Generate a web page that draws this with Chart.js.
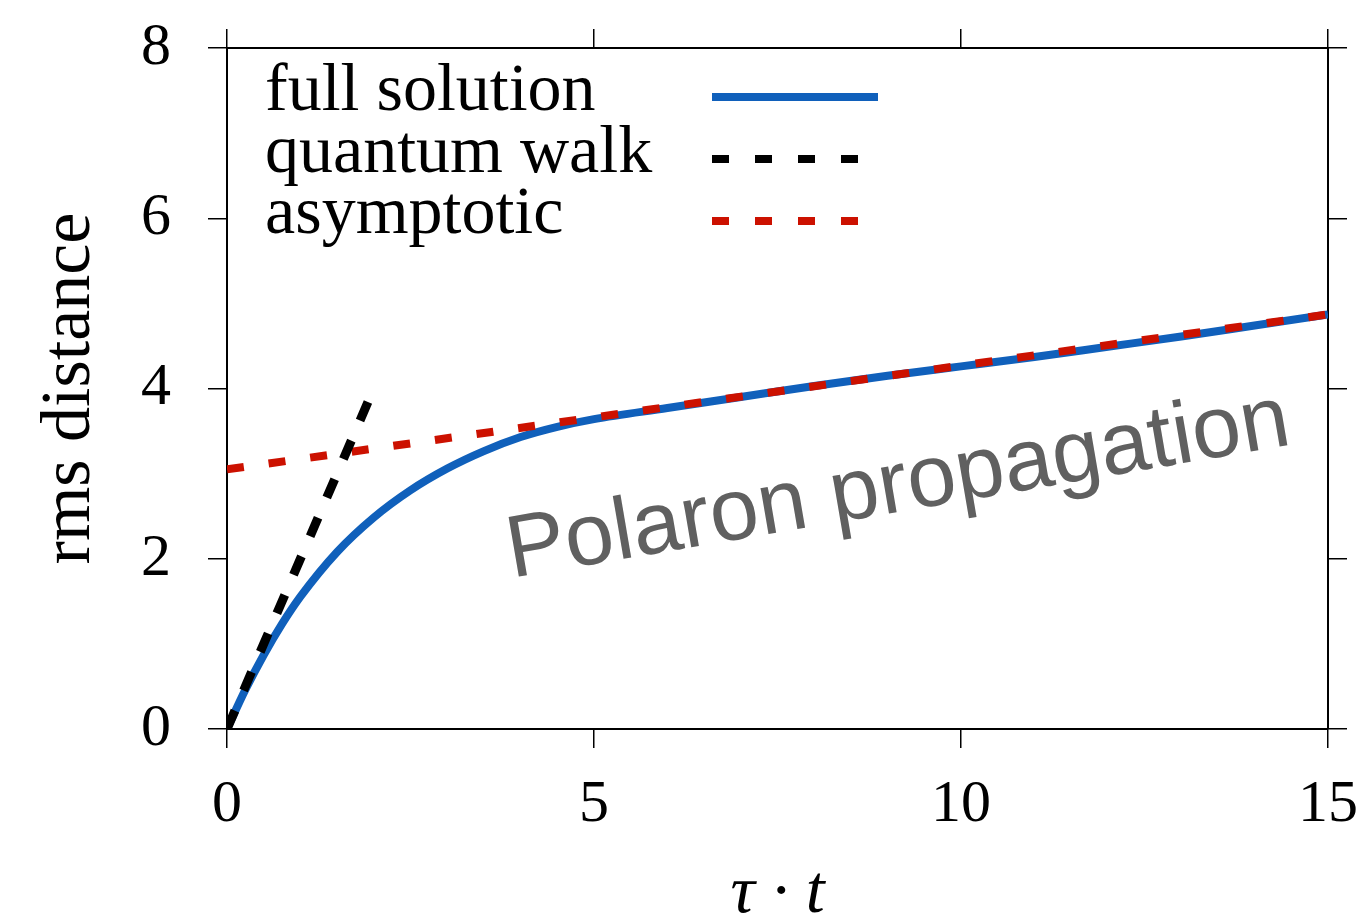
<!DOCTYPE html>
<html>
<head>
<meta charset="utf-8">
<title>rms distance of polaron propagation</title>
<script src="https://cdn.jsdelivr.net/npm/chart.js@4.4.1/dist/chart.umd.min.js"></script>
<style>
  html, body { margin: 0; padding: 0; background: #ffffff; }
  canvas { display: block; }
</style>
</head>
<body>
<canvas id="chart" width="1364" height="920"></canvas>
<script>
// Full solution of the rms distance versus tau*t
const timeFull = [0, 0.25, 0.5, 0.75, 1, 1.5, 2, 2.5, 3, 3.5, 4, 4.5, 5, 6, 7, 8, 9, 10, 11, 12, 13, 14, 15];
const rmsFull  = [0, 0.46, 0.87, 1.235, 1.555, 2.08, 2.485, 2.805, 3.06, 3.265, 3.43, 3.55, 3.64, 3.77, 3.90, 4.03, 4.15, 4.26, 4.37, 4.49, 4.61, 4.74, 4.87];

// Short-time quantum walk (ballistic) behaviour
const timeWalk = [0, 2];
const rmsWalk  = [0, 4.0];

// Long-time asymptotic behaviour
const timeAsym = [0, 5, 10, 15];
const rmsAsym  = [3.05, 3.66, 4.27, 4.87];

// Axis ticks
const xTicks = [0, 5, 10, 15];
const yTicks = [0, 2, 4, 6, 8];

const seriesNames = ['full solution', 'quantum walk', 'asymptotic'];
const annotationText = 'Polaron propagation';

const toPoints = (xs, ys) => xs.map((x, i) => ({ x: x, y: ys[i] }));

const SERIF = '"Liberation Serif", "DejaVu Serif", serif';
const SANS = '"Liberation Sans", Arial, sans-serif';

// Legend with the text on the left and the line sample on the right
const sideLegend = {
  id: 'sideLegend',
  afterDraw(chart) {
    const ctx = chart.ctx;
    const textX = 265;
    const sampleX0 = 712, sampleX1 = 878;
    const baselines = [110, 172, 233];
    const lineYs = [97, 159, 221];
    ctx.save();
    ctx.font = '68px ' + SERIF;
    ctx.fillStyle = '#000000';
    ctx.textAlign = 'left';
    ctx.textBaseline = 'alphabetic';
    chart.data.datasets.forEach((ds, i) => {
      ctx.fillText(ds.label, textX, baselines[i]);
      ctx.beginPath();
      ctx.lineWidth = ds.legendWidth;
      ctx.strokeStyle = ds.borderColor;
      ctx.lineCap = 'butt';
      ctx.setLineDash(ds.borderDash ? [17, 26] : []);
      ctx.moveTo(sampleX0, lineYs[i]);
      ctx.lineTo(sampleX1, lineYs[i]);
      ctx.stroke();
    });
    ctx.restore();
  }
};

// Rotated label placed inside the plot in data coordinates
const plotLabel = {
  id: 'plotLabel',
  afterDraw(chart) {
    const ctx = chart.ctx;
    const px = chart.scales.x.getPixelForValue(9.2);
    const py = chart.scales.y.getPixelForValue(2.56);
    ctx.save();
    ctx.translate(px, py);
    ctx.rotate(-9.7 * Math.PI / 180);
    ctx.font = '88px ' + SANS;
    ctx.fillStyle = '#606060';
    ctx.textAlign = 'center';
    ctx.textBaseline = 'alphabetic';
    ctx.fillText(annotationText, 0, 0);
    ctx.restore();
  }
};

const gridStyle = {
  display: true,
  drawOnChartArea: false,
  drawTicks: true,
  tickLength: 19,
  tickWidth: 1.5,
  tickColor: '#000000',
  color: '#000000',
  lineWidth: 1.5
};
const borderStyle = { display: true, color: '#000000', width: 2 };

// Fix the size of each axis box and drop the label overflow padding
const fitBox = (size) => (s) => {
  if (s.isHorizontal()) { s.height = size; } else { s.width = size; }
  s.paddingTop = 0; s.paddingBottom = 0; s.paddingLeft = 0; s.paddingRight = 0;
};

new Chart(document.getElementById('chart'), {
  type: 'line',
  data: {
    datasets: [
      {
        label: seriesNames[0],
        data: toPoints(timeFull, rmsFull),
        borderColor: '#1060bb',
        borderWidth: 8,
        legendWidth: 8,
        borderCapStyle: 'butt',
        cubicInterpolationMode: 'monotone',
        pointRadius: 0,
        order: 3
      },
      {
        label: seriesNames[1],
        data: toPoints(timeWalk, rmsWalk),
        borderColor: '#000000',
        borderWidth: 9,
        legendWidth: 8,
        borderDash: [20, 22],
        borderCapStyle: 'butt',
        pointRadius: 0,
        order: 1
      },
      {
        label: seriesNames[2],
        data: toPoints(timeAsym, rmsAsym),
        borderColor: '#cc1100',
        borderWidth: 8,
        legendWidth: 8,
        borderDash: [17, 25],
        borderCapStyle: 'butt',
        pointRadius: 0,
        order: 2
      }
    ]
  },
  options: {
    responsive: false,
    animation: false,
    devicePixelRatio: 1,
    layout: { padding: { left: 0, top: 29, right: 17, bottom: 0 } },
    plugins: {
      legend: { display: false },
      tooltip: { enabled: false }
    },
    scales: {
      x: {
        type: 'linear',
        position: 'bottom',
        min: 0,
        max: 15,
        afterBuildTicks: (s) => { s.ticks = xTicks.map(v => ({ value: v })); },
        afterFit: fitBox(191),
        ticks: {
          color: '#000000',
          padding: 21,
          maxRotation: 0,
          font: { family: SERIF, size: 60, lineHeight: 1.2 }
        },
        grid: gridStyle,
        border: borderStyle,
        title: {
          display: true,
          text: 'τ · t',
          color: '#000000',
          font: { family: SERIF, size: 68, style: 'italic', lineHeight: 0.5 },
          padding: { top: 0, bottom: 9 }
        }
      },
      x2: {
        type: 'linear',
        position: 'top',
        min: 0,
        max: 15,
        afterBuildTicks: (s) => { s.ticks = xTicks.map(v => ({ value: v })); },
        afterFit: fitBox(19),
        ticks: { display: false },
        grid: gridStyle,
        border: borderStyle
      },
      y: {
        type: 'linear',
        position: 'left',
        min: 0,
        max: 8,
        afterBuildTicks: (s) => { s.ticks = yTicks.map(v => ({ value: v })); },
        afterFit: fitBox(227),
        ticks: {
          color: '#000000',
          padding: 37,
          font: { family: SERIF, size: 60, lineHeight: 1.2 }
        },
        grid: gridStyle,
        border: borderStyle,
        title: {
          display: true,
          text: 'rms distance',
          color: '#000000',
          font: { family: SERIF, size: 70, lineHeight: 1.2 },
          padding: { top: 29, bottom: 0 }
        }
      },
      y2: {
        type: 'linear',
        position: 'right',
        min: 0,
        max: 8,
        afterBuildTicks: (s) => { s.ticks = yTicks.map(v => ({ value: v })); },
        afterFit: fitBox(19),
        ticks: { display: false },
        grid: gridStyle,
        border: borderStyle
      }
    }
  },
  plugins: [sideLegend, plotLabel]
});
</script>
</body>
</html>
